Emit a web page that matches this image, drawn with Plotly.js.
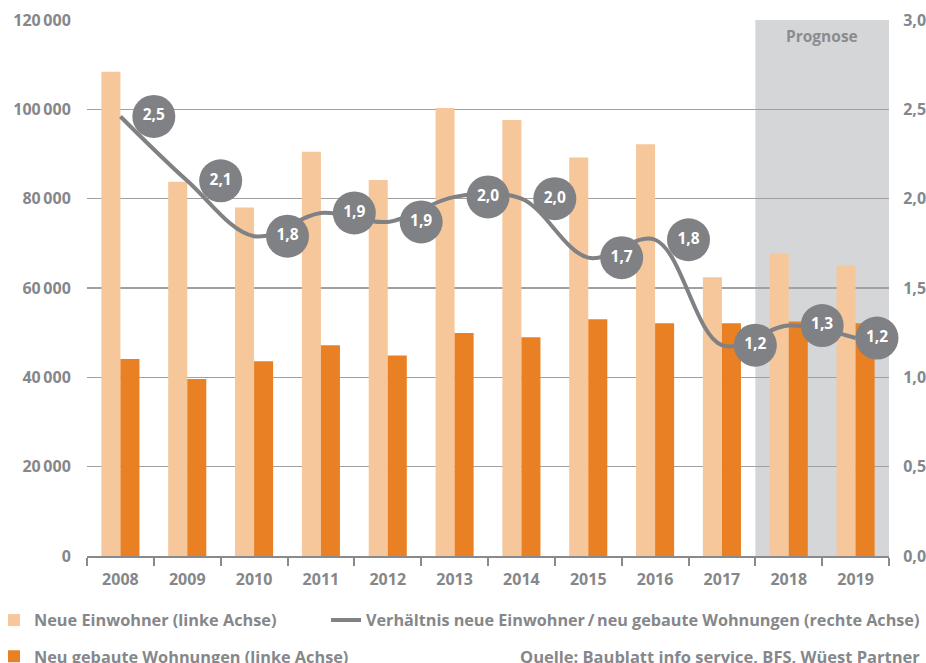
<!DOCTYPE html>
<html>
<head>
<meta charset="utf-8">
<script src="https://cdn.plot.ly/plotly-3.0.1.min.js"></script>
<style>
  html, body { margin: 0; padding: 0; background: #ffffff; }
  #chart { width: 926px; height: 663px; }
</style>
</head>
<body>
<div id="chart"></div>
<script>
// ---- Data ----
const years = [2008, 2009, 2010, 2011, 2012, 2013, 2014, 2015, 2016, 2017, 2018, 2019];
const neueEinwohner = [108400, 83800, 78000, 90500, 84200, 100300, 97600, 89200, 92200, 62400, 67800, 65100];
const neueWohnungen = [44100, 39600, 43600, 47200, 44900, 49900, 49000, 53000, 52100, 52100, 52500, 52100];
const verhaeltnis = [2.46, 2.10, 1.79, 1.92, 1.87, 2.01, 2.00, 1.67, 1.77, 1.18, 1.29, 1.22];
const verhaeltnisLabels = ['2,5', '2,1', '1,8', '1,9', '1,9', '2,0', '2,0', '1,7', '1,8', '1,2', '1,3', '1,2'];
const leftTickVals = [0, 20000, 40000, 60000, 80000, 100000, 120000];
const leftTickText = ['0', '20\u2009000', '40\u2009000', '60\u2009000', '80\u2009000', '100\u2009000', '120\u2009000'];
const rightTickVals = [0, 0.5, 1.0, 1.5, 2.0, 2.5, 3.0];
const rightTickText = ['0,0', '0,5', '1,0', '1,5', '2,0', '2,5', '3,0'];
const prognoseYears = [2018, 2019];

// ---- Styles ----
const FONT = '"Open Sans", Lato, sans-serif';
const TXT = '#86878a';
const GREY = '#808184';
const PLOT_L = 87, PLOT_R = 889, PLOT_T = 20, PLOT_B = 556;
const PW = PLOT_R - PLOT_L, PH = PLOT_B - PLOT_T;

const circleX = years.map((y, i) => y + (i === years.length - 1 ? 0.32 : 0.5));

const traces = [
  {
    type: 'bar', x: years, y: neueEinwohner, name: 'Neue Einwohner (linke Achse)',
    marker: { color: '#f6c79a' }, legend: 'legend', legendgroup: 'a'
  },
  {
    type: 'bar', x: years, y: neueWohnungen, name: 'Neu gebaute Wohnungen (linke Achse)',
    marker: { color: '#ea8024' }, legend: 'legend', legendgroup: 'b'
  },
  {
    type: 'scatter', mode: 'lines', x: years, y: verhaeltnis, yaxis: 'y2',
    name: 'Verh\u00e4ltnis neue Einwohner\u2009/\u2009neu gebaute Wohnungen (rechte Achse)',
    line: { color: GREY, width: 4, shape: 'spline', smoothing: 1 },
    legend: 'legend2'
  },
  {
    type: 'scatter', mode: 'markers+text', x: circleX, y: verhaeltnis, yaxis: 'y2',
    text: verhaeltnisLabels, textposition: 'middle center',
    textfont: { family: FONT, size: 15.5, color: '#ffffff', weight: 700 },
    marker: { size: 43, color: GREY, line: { width: 0 } },
    showlegend: false, cliponaxis: false
  }
];

const layout = {
  width: 926, height: 663,
  margin: { l: PLOT_L, r: 926 - PLOT_R, t: PLOT_T, b: 663 - PLOT_B, autoexpand: false },
  paper_bgcolor: '#ffffff', plot_bgcolor: '#ffffff',
  font: { family: FONT, color: TXT, size: 16, weight: 700 },
  barmode: 'group', bargap: 0.43,
  hovermode: false,
  xaxis: {
    type: 'linear', range: [2007.5, 2019.5],
    tickvals: years, ticktext: years.map(String),
    ticks: 'outside', ticklen: 8, tickcolor: 'rgba(0,0,0,0)',
    tickfont: { family: FONT, size: 16, color: TXT, weight: 700 },
    minor: { ticks: 'outside', tick0: 2007.5, dtick: 1, ticklen: 8, tickwidth: 2, tickcolor: '#8a8a8c', showgrid: false },
    showline: true, linecolor: '#8a8a8c', linewidth: 2,
    showgrid: false, zeroline: false, fixedrange: true, automargin: false
  },
  yaxis: {
    range: [0, 120000], tickvals: leftTickVals, ticktext: leftTickText,
    ticks: 'outside', ticklen: 12, tickcolor: 'rgba(0,0,0,0)',
    tickfont: { family: FONT, size: 16, color: TXT, weight: 700 },
    showgrid: true, gridcolor: '#a0a0a2', gridwidth: 1.3,
    zeroline: false, showline: false, fixedrange: true, automargin: false
  },
  yaxis2: {
    overlaying: 'y', side: 'right', range: [0, 3],
    tickvals: rightTickVals, ticktext: rightTickText,
    ticks: 'outside', ticklen: 10, tickcolor: 'rgba(0,0,0,0)',
    tickfont: { family: FONT, size: 16, color: TXT, weight: 700 },
    showgrid: false, zeroline: false, showline: false, fixedrange: true, automargin: false
  },
  shapes: [
    {
      type: 'rect', xref: 'x', yref: 'paper',
      x0: prognoseYears[0] - 0.5, x1: prognoseYears[prognoseYears.length - 1] + 0.5,
      y0: 0, y1: 1, fillcolor: '#d5d6d8', line: { width: 0 }, layer: 'below'
    }
  ],
  annotations: [
    {
      text: 'Prognose', xref: 'x', yref: 'paper',
      x: (prognoseYears[0] + prognoseYears[prognoseYears.length - 1]) / 2, y: 1,
      yshift: -16, showarrow: false, xanchor: 'center', yanchor: 'middle',
      font: { family: FONT, size: 15.5, color: '#8b8c8f', weight: 700 }
    },
    {
      text: 'Quelle: Baublatt info service, BFS, W\u00fcest Partner',
      xref: 'paper', yref: 'paper', x: 1, y: (PLOT_B - 656) / PH, xshift: 33,
      xanchor: 'right', yanchor: 'middle', showarrow: false,
      font: { family: FONT, size: 16.5, color: TXT, weight: 700 }
    }
  ],
  legend: {
    xref: 'paper', yref: 'paper', x: (-6 - PLOT_L) / PW, y: (PLOT_B - 603) / PH,
    xanchor: 'left', yanchor: 'top', orientation: 'v',
    traceorder: 'grouped', tracegroupgap: 12,
    bgcolor: 'rgba(0,0,0,0)',
    font: { family: FONT, size: 16.3, color: TXT, weight: 700 }
  },
  legend2: {
    xref: 'paper', yref: 'paper', x: (326 - PLOT_L) / PW, y: (PLOT_B - 603) / PH,
    xanchor: 'left', yanchor: 'top', orientation: 'v',
    bgcolor: 'rgba(0,0,0,0)',
    font: { family: FONT, size: 16.2, color: TXT, weight: 700 }
  }
};

Plotly.newPlot('chart', traces, layout, { displayModeBar: false, staticPlot: true });
</script>
</body>
</html>
